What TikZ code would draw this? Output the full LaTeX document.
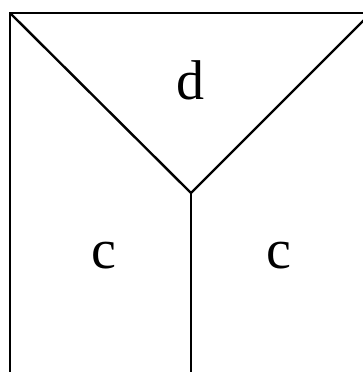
\documentclass[tikz,border=0pt]{standalone}
\usepackage{fontspec}
\setmainfont{Liberation Serif}
\begin{document}
\begin{tikzpicture}[x=1pt,y=1pt,
  edge/.style={line width=2.4pt, line cap=butt, line join=miter},
  lbl/.style={font=\fontsize{56}{60}\selectfont, inner sep=0pt, anchor=base}]
\useasboundingbox (0,0) rectangle (363,372);
\clip (0,0) rectangle (363,372);
\coordinate (tl) at (10,359);
\coordinate (tr) at (380,359);
\coordinate (j) at (191,179);
\coordinate (rd) at (371,359);
\coordinate (bl) at (10,-5);
\coordinate (bm) at (191,-5);
\draw[edge] (bl) -- (tl) -- (tr);
\draw[edge] (tl) -- (j) -- (rd);
\draw[edge] (j) -- (bm);
\node[lbl] (d) at (190,272) {d};
\node[lbl] (c1) at (104,103) {c};
\node[lbl] (c2) at (279,103) {c};
\end{tikzpicture}
\end{document}
